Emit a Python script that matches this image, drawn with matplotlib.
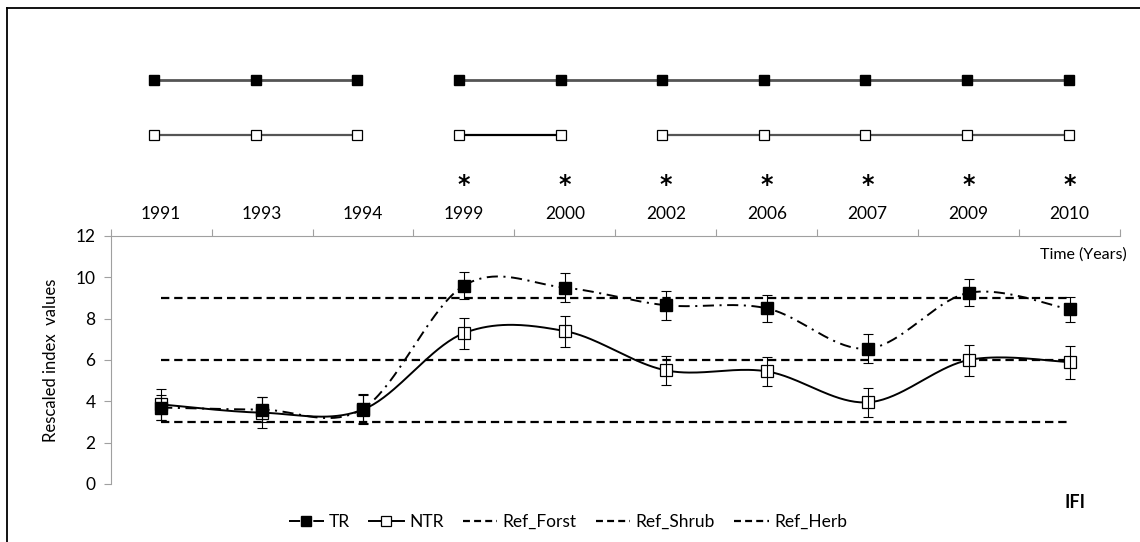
import numpy as np
import matplotlib
matplotlib.use('Agg')
import matplotlib.pyplot as plt
from matplotlib.lines import Line2D

plt.rcParams['font.family'] = ['Lato', 'DejaVu Sans']
plt.rcParams['lines.scale_dashes'] = False

#data
years = ['1991', '1993', '1994', '1999', '2000', '2002', '2006', '2007', '2009', '2010']
tr = [3.7, 3.6, 3.65, 9.6, 9.5, 8.65, 8.5, 6.55, 9.25, 8.45]
tr_err = [0.6, 0.6, 0.7, 0.65, 0.7, 0.7, 0.65, 0.7, 0.65, 0.6]
ntr = [3.85, 3.45, 3.6, 7.3, 7.4, 5.5, 5.45, 3.95, 6.0, 5.9]
ntr_err = [0.75, 0.75, 0.7, 0.75, 0.75, 0.7, 0.7, 0.7, 0.75, 0.8]
ref_names = ['Ref_Forst', 'Ref_Shrub', 'Ref_Herb']
ref_values = [9, 6, 3]
#groups of years joined in the top diagram, and years with an asterisk
tr_groups = [[0, 1, 2], [3, 4, 5, 6, 7, 8, 9]]
ntr_groups = [[0, 1, 2], [3, 4], [5, 6, 7, 8, 9]]
signif = [3, 4, 5, 6, 7, 8, 9]

W, H = 1140, 542

def smooth(x, y, n=40):
    #excel-like smoothed line (catmull-rom bezier)
    x = np.asarray(x, float)
    y = np.asarray(y, float)
    xs, ys = [], []
    for i in range(len(x) - 1):
        p0 = (x[max(i - 1, 0)], y[max(i - 1, 0)])
        p1 = (x[i], y[i])
        p2 = (x[i + 1], y[i + 1])
        p3 = (x[min(i + 2, len(x) - 1)], y[min(i + 2, len(x) - 1)])
        c1 = (p1[0] + (p2[0] - p0[0]) / 6, p1[1] + (p2[1] - p0[1]) / 6)
        c2 = (p2[0] - (p3[0] - p1[0]) / 6, p2[1] - (p3[1] - p1[1]) / 6)
        t = np.linspace(0, 1, n)
        bx = (1-t)**3*p1[0] + 3*(1-t)**2*t*c1[0] + 3*(1-t)*t**2*c2[0] + t**3*p2[0]
        by = (1-t)**3*p1[1] + 3*(1-t)**2*t*c1[1] + 3*(1-t)*t**2*c2[1] + t**3*p2[1]
        xs.extend(bx)
        ys.extend(by)
    return np.array(xs), np.array(ys)

fig = plt.figure(figsize=(W / 100, H / 100), dpi=100)

#outer frame (left and top visible)
fig.add_artist(Line2D([7.3 / W, 7.3 / W], [0, 1 - 8 / H], color='black', lw=1.3))
fig.add_artist(Line2D([7.3 / W, 1], [1 - 8 / H, 1 - 8 / H], color='black', lw=1.3))

x0, x1, ytop, ybot = 110.7, 1120, 236, 484
ax = fig.add_axes([x0 / W, 1 - ybot / H, (x1 - x0) / W, (ybot - ytop) / H])
x = np.arange(len(years))

#reference lines
for v in ref_values:
    ax.plot([x[0], x[-1]], [v, v], color='black', lw=1.6, ls=(0, (6, 3.5)))

#NTR
sx, sy = smooth(x, ntr)
ax.plot(sx, sy, color='black', lw=1.4)
ax.plot(x, ntr, ls='none', marker='s', ms=8, mfc='white', mec='black', mew=0.9)
ax.errorbar(x, ntr, yerr=ntr_err, fmt='none', ecolor='black', elinewidth=0.8, capsize=3.5, capthick=0.8)
#TR
sx, sy = smooth(x, tr)
ax.plot(sx, sy, color='black', lw=1.4, ls=(0, (8, 4, 1.5, 4)))
ax.errorbar(x, tr, yerr=tr_err, fmt='none', ecolor='black', elinewidth=0.8, capsize=3.5, capthick=0.8)
ax.plot(x, tr, ls='none', marker='s', ms=8, mfc='black', mec='black')

ax.set_xlim(-0.5, 9.5)
ax.set_ylim(0, 12)
ax.set_yticks(range(0, 13, 2))
ax.xaxis.tick_top()
ax.set_xticks(np.arange(-0.5, 10, 1))
ax.set_xticklabels([])
ax.set_xticks(x, minor=True)
ax.set_xticklabels(years, minor=True, fontsize=12.5)
ax.tick_params(axis='x', which='major', direction='out', length=5, color='#a0a0a0')
ax.tick_params(axis='x', which='minor', length=0, pad=10)
ax.tick_params(axis='y', direction='out', length=5, color='#a0a0a0', labelsize=12.5, pad=6)
for s in ['bottom', 'right']:
    ax.spines[s].set_visible(False)
for s in ['top', 'left']:
    ax.spines[s].set_color('#a0a0a0')
ax.set_ylabel('Rescaled index  values', fontsize=12, labelpad=12)
fig.text(1127 / W, 1 - 255 / H, 'Time (Years)', ha='right', va='center', fontsize=11.5)
fig.text(1075 / W, 1 - 502 / H, 'IFI', ha='center', va='center', fontsize=13, fontweight='bold')

#asterisks above the years
for i in signif:
    ax.text(x[i], 14.45, '*', ha='center', va='center', fontsize=17, fontweight='bold',
            family='DejaVu Sans', clip_on=False)

#top diagram of joined years
top = fig.add_axes([x0 / W, 1 - ytop / H, (x1 - x0) / W, ytop / H])
top.set_xlim(-0.429, 9.505)
top.set_ylim(-1.836, 2.4545)
top.axis('off')
for g in tr_groups:
    top.plot(g, [1] * len(g), color='#555555', lw=2)
    top.plot(g, [1] * len(g), ls='none', marker='s', ms=7.5, mfc='black', mec='black')
for g in ntr_groups:
    col = 'black' if len(g) == 2 else '#555555'
    top.plot(g, [0] * len(g), color=col, lw=1.6)
    top.plot(g, [0] * len(g), ls='none', marker='s', ms=7, mfc='white', mec='black', mew=0.9)

#legend
handles = [Line2D([], [], color='black', lw=1.4, ls=(0, (8, 4, 1.5, 4)), marker='s', ms=6.5, mfc='black'),
           Line2D([], [], color='black', lw=1.4, marker='s', ms=6.5, mfc='white', mew=0.9)]
for n in ref_names:
    handles.append(Line2D([], [], color='black', lw=1.6, ls=(0, (5, 3))))
fig.legend(handles, ['TR', 'NTR'] + ref_names, loc='center', bbox_to_anchor=(568 / W, 1 - 522 / H),
           ncol=5, frameon=False, fontsize=12.5, handlelength=2.0, handletextpad=0.3, columnspacing=1.1)

fig.savefig('out.png', dpi=100)
